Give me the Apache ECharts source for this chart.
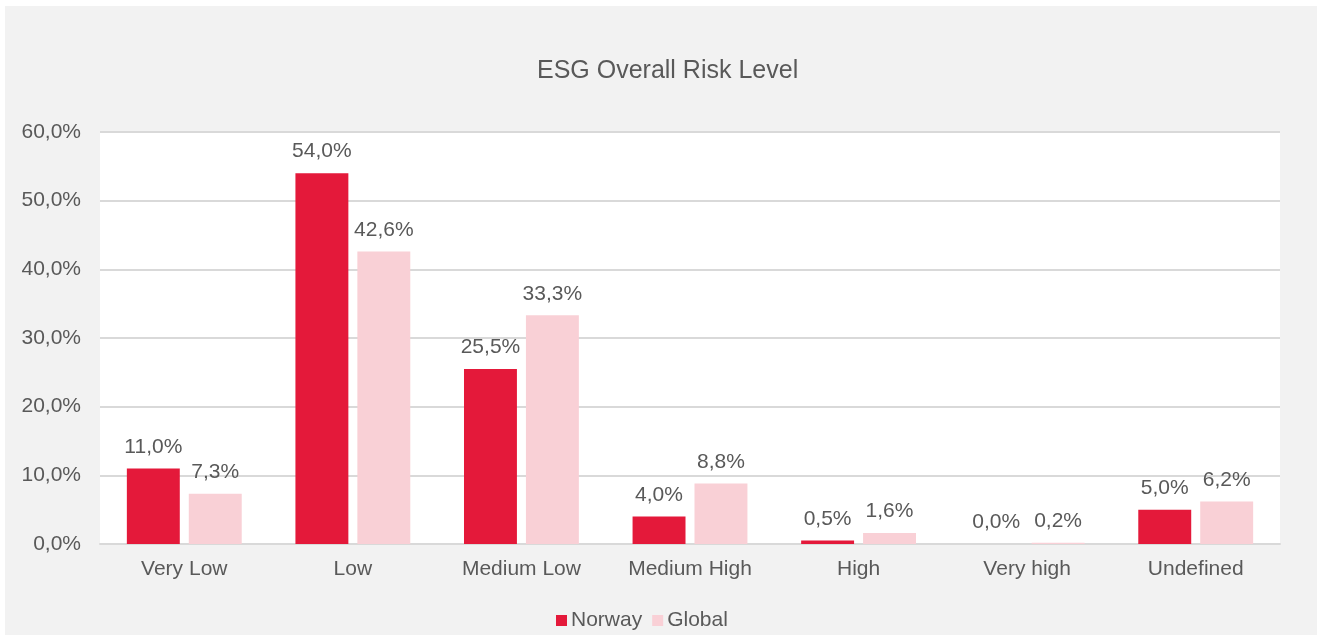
<!DOCTYPE html>
<html>
<head>
<meta charset="utf-8">
<script src="https://cdn.jsdelivr.net/npm/echarts@6/dist/echarts.min.js"></script>
<style>
html,body{margin:0;padding:0;background:#ffffff;}
#wrap{position:absolute;left:5px;top:6px;width:1312px;height:629px;background:#f2f2f2;}
#chart{width:1312px;height:629px;}
</style>
</head>
<body>
<div id="wrap"><div id="chart"></div></div>
<script>
const categories = ["Very Low", "Low", "Medium Low", "Medium High", "High", "Very high", "Undefined"];
const norway = [11.0, 54.0, 25.5, 4.0, 0.5, 0.0, 5.0];
const global = [7.3, 42.6, 33.3, 8.8, 1.6, 0.2, 6.2];
const yTicks = [0, 10, 20, 30, 40, 50, 60];

const fmt = v => v.toFixed(1).replace('.', ',') + '%';
const txt = '#595959';
const font = 'Liberation Sans, Arial, sans-serif';
const fs = 21;

const chart = echarts.init(document.getElementById('chart'));
chart.setOption({
  animation: false,
  backgroundColor: 'transparent',
  textStyle: { fontFamily: font },
  title: {
    text: 'ESG Overall Risk Level',
    left: 527,
    top: 48,
    textStyle: { fontFamily: font, fontSize: 25, fontWeight: 'normal', color: txt }
  },
  legend: {
    top: 599,
    left: 546,
    itemWidth: 11,
    itemHeight: 11,
    itemGap: 10,
    icon: 'rect',
    textStyle: { fontFamily: font, fontSize: fs, color: txt, padding: [0, 0, 0, -1] },
    data: ['Norway', 'Global']
  },
  grid: {
    left: 95, top: 126, width: 1180, height: 412,
    show: true, backgroundColor: '#ffffff', borderWidth: 0,
    containLabel: false
  },
  xAxis: {
    type: 'category',
    data: categories,
    axisTick: { show: false },
    axisLine: { show: true, lineStyle: { color: '#d9d9d9', width: 2 } },
    axisLabel: { fontFamily: font, fontSize: fs, color: txt, margin: 15 }
  },
  yAxis: {
    type: 'value',
    min: yTicks[0],
    max: yTicks[yTicks.length - 1],
    interval: 10,
    axisLine: { show: false },
    axisTick: { show: false },
    splitLine: { lineStyle: { color: '#d9d9d9', width: 2 } },
    axisLabel: { fontFamily: font, fontSize: fs, color: txt, margin: 19, formatter: v => fmt(v) }
  },
  series: [
    {
      name: 'Norway', type: 'bar', data: norway,
      barWidth: '31.4%', barGap: '17%',
      itemStyle: { color: '#e4193a' },
      label: { show: true, position: 'top', distance: 11, fontFamily: font, fontSize: fs, color: txt, formatter: p => fmt(p.value) }
    },
    {
      name: 'Global', type: 'bar', data: global,
      barWidth: '31.4%',
      itemStyle: { color: '#f9d0d6' },
      label: { show: true, position: 'top', distance: 11, fontFamily: font, fontSize: fs, color: txt, formatter: p => fmt(p.value) }
    }
  ]
});
</script>
</body>
</html>
